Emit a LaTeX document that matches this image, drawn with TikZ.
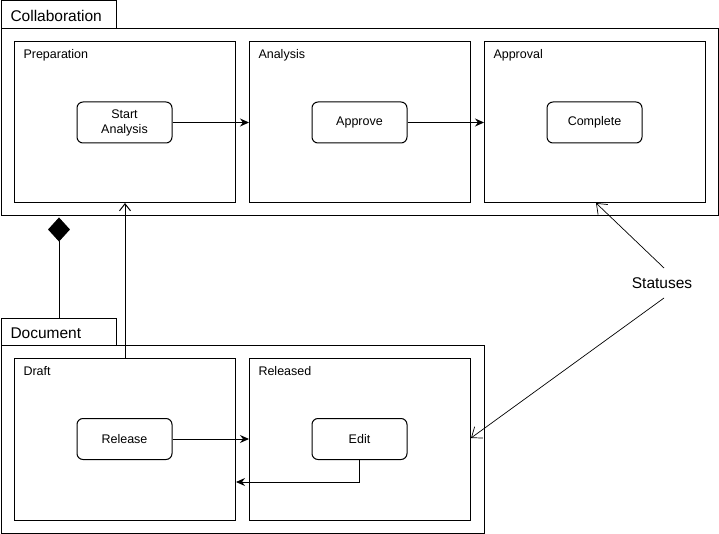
\documentclass[tikz,border=0pt]{standalone}
\usepackage{fontspec}
\setmainfont{Liberation Sans}
\usetikzlibrary{arrows.meta,shapes.geometric}
\begin{document}
\begin{tikzpicture}[x=1pt,y=-1pt,line width=1pt,
  frame/.style={draw,fill=white},
  region/.style={draw},
  state/.style={draw,rounded corners=6pt,minimum width=95pt,minimum height=41pt,align=center,font=\fontsize{12.5}{15}\selectfont,inner sep=1pt},
  trans/.style={-{Stealth[length=9pt,width=8pt,inset=3pt]}},
  lbl/.style={anchor=north west,font=\fontsize{12.5}{15}\selectfont,inner sep=0pt},
  tablbl/.style={anchor=west,font=\fontsize{15.5}{18}\selectfont,inner sep=0pt},
  note/.style={-{Straight Barb[length=9pt,width=14pt]},line width=0.7pt}
]
\useasboundingbox (0,0) rectangle (719,534);
% Collaboration
\draw[frame] (1,1) rectangle (116,29);
\node[tablbl] (collab) at (10,15.5) {Collaboration};
\draw[frame] (1,29) rectangle (718,216);
\draw[region] (14,42) rectangle (235,203);
\draw[region] (249,42) rectangle (470,203);
\draw[region] (484,42) rectangle (705,203);
\coordinate (prepB) at (125,203);
\coordinate (anaL) at (249,122.5);
\coordinate (appL) at (484,122.5);
\coordinate (appB) at (596,203);
\node[lbl] at (23,48.5) {Preparation};
\node[lbl] at (258,48.5) {Analysis};
\node[lbl] at (493,48.5) {Approval};
\node[state] (start) at (124.5,122.5) {Start\\Analysis};
\node[state] (approve) at (359.5,122.5) {Approve};
\node[state] (complete) at (594.5,122.5) {Complete};
\draw[trans] (start.east) -- (anaL);
\draw[trans] (approve.east) -- (appL);
% Document
\draw[frame] (1,318) rectangle (116,345);
\node[tablbl] (doc) at (10,333) {Document};
\coordinate (docT) at (59,318);
\draw[frame] (1,345) rectangle (484,533);
\draw[region] (14,358) rectangle (235,520);
\draw[region] (249,358) rectangle (470,520);
\coordinate (draftT) at (125,358);
\coordinate (draftR) at (236,482);
\coordinate (relL) at (249,439);
\coordinate (relR) at (471,438);
\node[lbl] at (23,365.5) {Draft};
\node[lbl] at (258,365.5) {Released};
\node[state] (release) at (124.5,439) {Release};
\node[state] (edit) at (359.5,439) {Edit};
\draw[trans] (release.east) -- (relL);
\draw[trans] (edit.south) |- (draftR);
% composition
\node[diamond,fill=black,draw,minimum width=21pt,minimum height=23pt,inner sep=0pt] (dia) at (59,229.5) {};
\draw (dia.south) -- (docT);
\draw[-{Straight Barb[length=7pt,width=11pt]}] (draftT) -- (prepB);
% Statuses
\node[font=\fontsize{15.5}{18}\selectfont,inner sep=2pt] (stat) at (662,283.5) {Statuses};
\draw[note] (664,268) -- (appB);
\draw[note] (664,298) -- (relR);
\end{tikzpicture}
\end{document}
